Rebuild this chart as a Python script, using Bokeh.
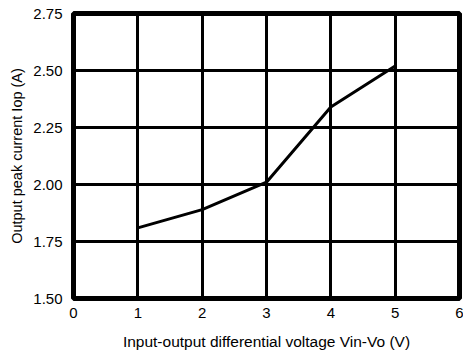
from bokeh.plotting import figure
from bokeh.embed import file_html
from bokeh.resources import INLINE
from bokeh.models import FixedTicker, Range1d

voltage = [1, 2, 3, 4, 5]
current = [1.81, 1.89, 2.01, 2.34, 2.52]
x_ticks = [0, 1, 2, 3, 4, 5, 6]
y_ticks = [1.50, 1.75, 2.00, 2.25, 2.50, 2.75]
y_tick_labels = {1.5: "1.50", 1.75: "1.75", 2.0: "2.00", 2.25: "2.25", 2.5: "2.50", 2.75: "2.75"}

p = figure(width=463, height=360, output_backend="svg", toolbar_location=None,
           x_range=Range1d(0, 6), y_range=Range1d(1.5, 2.75),
           min_border_left=73, min_border_right=4, min_border_top=13, min_border_bottom=62)

p.line(voltage, current, line_color="black", line_width=3)

p.outline_line_color = "black"
p.outline_line_width = 5
p.outline_line_alpha = 1

for ax in (p.xaxis[0], p.yaxis[0]):
    ax.axis_line_color = None
    ax.major_tick_line_color = None
    ax.minor_tick_line_color = None
    ax.major_label_text_font = "Liberation Sans"
    ax.major_label_text_font_size = "15px"
    ax.major_label_text_color = "black"
    ax.axis_label_text_font = "Liberation Sans"
    ax.axis_label_text_font_style = "normal"
    ax.axis_label_text_color = "black"

p.xaxis.axis_label_text_font_size = "15.5px"
p.yaxis.axis_label_text_font_size = "14.5px"
p.xaxis.ticker = FixedTicker(ticks=x_ticks)
p.yaxis.ticker = FixedTicker(ticks=y_ticks)
p.yaxis.major_label_overrides = y_tick_labels
p.xaxis.axis_label = "Input-output differential voltage Vin-Vo (V)"
p.yaxis.axis_label = "Output peak current Iop (A)"
p.xaxis.major_label_standoff = 3
p.yaxis.major_label_standoff = 5
p.xaxis.axis_label_standoff = 12
p.yaxis.axis_label_standoff = 5

p.xgrid.ticker = FixedTicker(ticks=x_ticks)
p.ygrid.ticker = FixedTicker(ticks=y_ticks)
p.grid.grid_line_color = "black"
p.grid.grid_line_width = 3
p.grid.grid_line_alpha = 1

p.background_fill_color = "white"
p.border_fill_color = "white"

open("out.html", "w").write(file_html(p, INLINE))
